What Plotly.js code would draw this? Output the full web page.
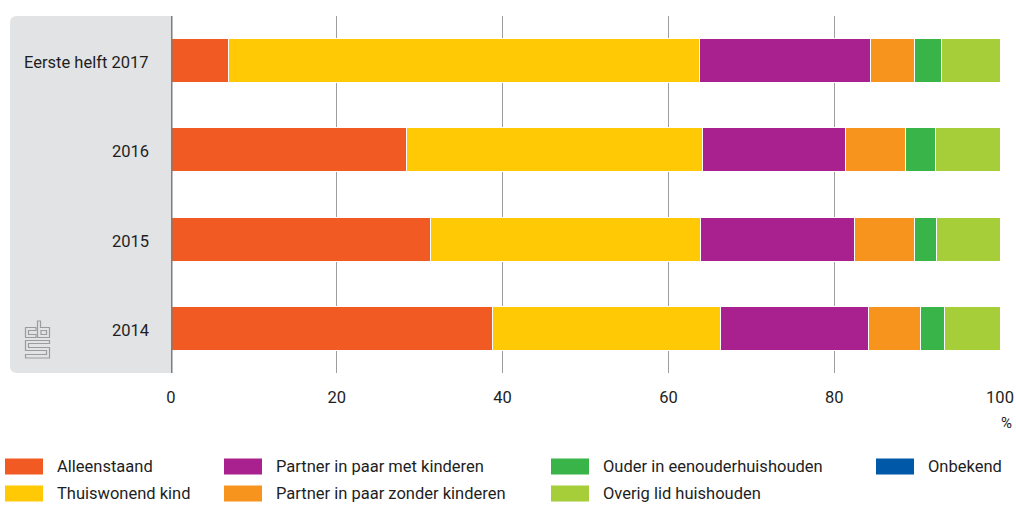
<!DOCTYPE html>
<html>
<head>
<meta charset="utf-8">
<script src="https://cdn.plot.ly/plotly-3.0.1.min.js"></script>
<style>
  html, body { margin: 0; padding: 0; background: #ffffff; }
  #chart { width: 1016px; height: 505px; }
</style>
</head>
<body>
<div id="chart"></div>
<script>
// ---- data ----
const categories = ["2014", "2015", "2016", "Eerste helft 2017"];
const seriesNames = [
  "Alleenstaand",
  "Thuiswonend kind",
  "Partner in paar met kinderen",
  "Partner in paar zonder kinderen",
  "Ouder in eenouderhuishouden",
  "Overig lid huishouden",
  "Onbekend"
];
const alleenstaand      = [38.8, 31.3, 28.4, 6.9];
const thuiswonendKind   = [27.5, 32.6, 35.7, 56.8];
const partnerMetKind    = [17.8, 18.6, 17.3, 20.7];
const partnerZonderKind = [6.3, 7.2, 7.2, 5.3];
const ouderEenouder     = [2.9, 2.6, 3.6, 3.2];
const overigLid         = [6.7, 7.7, 7.8, 7.1];
const onbekend          = [0, 0, 0, 0];
const xTickValues = [0, 20, 40, 60, 80, 100];
const unitLabel = "%";

// ---- styles ----
const colors = ["#f15a22", "#ffc905", "#a9218e", "#f6941e", "#38b449", "#a6ce39", "#0058a8"];
const FONT = "Roboto, 'Liberation Sans', Arial, sans-serif";
const TXT = "#1e1e1e";

const W = 1016, H = 505;
const M = { l: 171, r: 16, t: 16, b: 132 };
const PW = W - M.l - M.r, PH = H - M.t - M.b;
const px = v => (v - M.l) / PW;          // pixel x -> paper
const py = v => (H - M.b - v) / PH;      // pixel y -> paper

const values = [alleenstaand, thuiswonendKind, partnerMetKind, partnerZonderKind, ouderEenouder, overigLid, onbekend];

const traces = seriesNames.map((name, i) => ({
  type: "bar",
  orientation: "h",
  name: name,
  y: categories,
  x: values[i],
  marker: { color: colors[i], line: { color: "#ffffff", width: i === 6 ? 0 : 1 } },
  hoverinfo: "skip",
  showlegend: false
}));

// ---- panel & decorations ----
const shapes = [];
const annotations = [];

// grey label panel with rounded left corners
const r = 7;
const pL = 10, pR = 171, pT = 16, pB = 373;
shapes.push({
  type: "path", xref: "paper", yref: "paper", layer: "below",
  path: `M${px(pR)},${py(pT)} L${px(pL + r)},${py(pT)} Q${px(pL)},${py(pT)} ${px(pL)},${py(pT + r)} ` +
        `L${px(pL)},${py(pB - r)} Q${px(pL)},${py(pB)} ${px(pL + r)},${py(pB)} L${px(pR)},${py(pB)} Z`,
  fillcolor: "#e2e3e5", line: { width: 0 }
});

// axis line at 0
shapes.push({
  type: "line", xref: "x", yref: "paper", x0: 0, x1: 0, y0: 0, y1: 1,
  line: { color: "#7d7d7d", width: 3 }, layer: "above"
});

// category labels (category axis positions are serial indices)
categories.forEach((c, i) => {
  annotations.push({
    xref: "paper", yref: "y", x: px(151), y: i, xanchor: "right", yanchor: "middle",
    yshift: -2, text: c, showarrow: false, font: { family: FONT, size: 16.5, color: TXT }
  });
});

// cbs logo (outline)
const logoPaths = [
  "M36,327.5 L25.5,327.5 L25.5,337.5 L36,337.5 L36,334.5 L28.5,334.5 L28.5,330.5 L36,330.5 Z",
  "M37.5,321 L40.5,321 L40.5,327.5 L49.5,327.5 L49.5,337.5 L37.5,337.5 Z",
  "M41,330.5 L46.5,330.5 L46.5,334.5 L41,334.5 Z",
  "M49.5,340.5 L25.5,340.5 L25.5,350.5 L46.5,350.5 L46.5,354.5 L25.5,354.5 L25.5,358 L49.5,358 L49.5,347.5 L28.5,347.5 L28.5,343.5 L49.5,343.5 Z"
];
logoPaths.forEach(p => {
  const conv = p.replace(/(-?\d+(?:\.\d+)?),(-?\d+(?:\.\d+)?)/g, (m, a, b) => `${px(+a)},${py(+b)}`);
  shapes.push({ type: "path", xref: "paper", yref: "paper", path: conv,
    line: { color: "#9c9c9c", width: 1.2 }, fillcolor: "rgba(0,0,0,0)", layer: "above" });
});

// unit label
annotations.push({
  xref: "paper", yref: "paper", x: px(1014), y: py(423), xanchor: "right", yanchor: "middle",
  text: unitLabel, showarrow: false, font: { family: FONT, size: 15, color: TXT }
});

// custom legend (column-major, 2 rows)
const legendOrder = [0, 1, 2, 3, 4, 5, 6];
const colX = [5, 224, 551, 876];
const rowY = [466.5, 493.5];
legendOrder.forEach((si, k) => {
  const col = Math.floor(k / 2), row = k % 2;
  const x0 = colX[col], yc = rowY[row];
  shapes.push({
    type: "rect", xref: "paper", yref: "paper",
    x0: px(x0), x1: px(x0 + 38), y0: py(yc - 8), y1: py(yc + 8),
    fillcolor: colors[si], line: { width: 0 }
  });
  annotations.push({
    xref: "paper", yref: "paper", x: px(x0 + 51), y: py(yc), xanchor: "left", yanchor: "middle",
    borderpad: 0,
    text: seriesNames[si], showarrow: false, font: { family: FONT, size: 16.5, color: TXT }
  });
});

const layout = {
  width: W, height: H,
  margin: M,
  paper_bgcolor: "#ffffff", plot_bgcolor: "rgba(0,0,0,0)",
  barmode: "stack",
  bargap: 0.505,
  font: { family: FONT, size: 16.5, color: TXT },
  xaxis: {
    range: [0, 100], tickvals: xTickValues, ticktext: xTickValues.map(String),
    showgrid: true, gridcolor: "#9d9d9d", gridwidth: 1,
    zeroline: false, showline: false, ticks: "",
    ticklabelstandoff: 12,
    tickfont: { family: FONT, size: 16.5, color: TXT },
    fixedrange: true
  },
  yaxis: {
    type: "category", categoryorder: "array", categoryarray: categories,
    range: [-0.5, 3.5],
    showgrid: false, zeroline: false, showline: false, ticks: "",
    showticklabels: false,
    fixedrange: true
  },
  shapes: shapes,
  annotations: annotations,
  showlegend: false
};

Plotly.newPlot("chart", traces, layout, { staticPlot: true, displayModeBar: false });
</script>
</body>
</html>
